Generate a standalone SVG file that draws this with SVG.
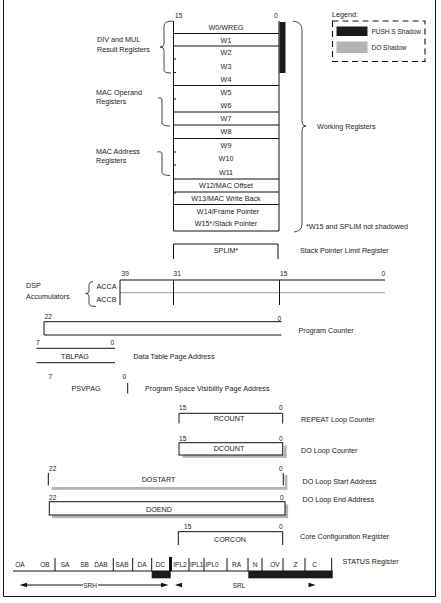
<svg xmlns="http://www.w3.org/2000/svg" width="441" height="603" viewBox="0 0 441 603">
<style>
text{font-family:"Liberation Sans",Arial,sans-serif;font-size:7.2px;fill:#222}
.c{text-anchor:middle}
.n{font-size:6.6px}
.s{font-size:6.5px;text-anchor:middle}
.lg{font-size:6.5px}
.b{fill:none;stroke:#111;stroke-width:1}
.br{fill:none;stroke:#333;stroke-width:0.9}
.sh{fill:#b3b3b3}
.bk{fill:#1a1a1a}
</style>
<rect x="0" y="0" width="441" height="603" fill="#fff"/>
<path d="M3.5,-2 V596.5 H435.5 V-2" class="b"/>

<g id="legend">
<text x="332" y="16.5">Legend:</text>
<rect x="332.5" y="21" width="92.5" height="40.5" fill="none" stroke="#111" stroke-width="1.1" stroke-dasharray="6,4"/>
<rect x="336.5" y="26.5" width="31" height="9.5" class="bk"/>
<text x="371.5" y="33.5" class="lg">PUSH.S Shadow</text>
<rect x="336.5" y="41.5" width="31" height="11.5" class="sh"/>
<text x="371.5" y="49.5" class="lg">DO Shadow</text>
</g>

<g id="working-registers">
<text x="175" y="17.5" class="n">15</text>
<text x="274" y="17.5" class="n">0</text>
<rect x="279.5" y="22" width="6" height="51" class="bk"/>
<path d="M173.5,21 V231 H279 V21" class="b"/>
<path d="M173.5,33.5H279M173.5,46H279M173.5,85.5H279M173.5,112H279M173.5,125H279M173.5,138.5H279M173.5,179H279M173.5,192H279M173.5,204.5H279" class="b"/>
<path d="M173.5,59H176M173.5,72.5H176M173.5,99H176M173.5,152H176M173.5,165H176M173.5,193H176" class="b"/>
<text x="226" y="30" class="c">W0/WREG</text>
<text x="226" y="42.6" class="c">W1</text>
<text x="226" y="55" class="c">W2</text>
<text x="226" y="68.6" class="c">W3</text>
<text x="226" y="81.6" class="c">W4</text>
<text x="226" y="95" class="c">W5</text>
<text x="226" y="108" class="c">W6</text>
<text x="226" y="121" class="c">W7</text>
<text x="226" y="134" class="c">W8</text>
<text x="226" y="147.6" class="c">W9</text>
<text x="226" y="160.6" class="c">W10</text>
<text x="226" y="174.6" class="c">W11</text>
<text x="226" y="187.6" class="c">W12/MAC Offset</text>
<text x="226" y="200.6" class="c">W13/MAC Write Back</text>
<text x="228" y="213.6" class="c">W14/Frame Pointer</text>
<text x="226" y="225.6" class="c">W15*/Stack Pointer</text>
</g>

<g id="group-labels">
<path class="br" d="M173,21 Q164,21 164,26 L164,44 Q164,47 160,47 Q164,47 164,50 L164,70 Q164,73 171,73"/>
<text x="97" y="41.5">DIV and MUL</text>
<text x="97" y="51.5">Result Registers</text>
<path class="br" d="M158,98 Q162,97 162,100 L162,123 Q162,126 170,126"/>
<text x="96" y="94.5">MAC Operand</text>
<text x="96" y="103.5">Registers</text>
<path class="br" d="M157,152 Q162,151 162,154 L162,172 Q162,175.5 170,175.5"/>
<text x="96" y="154">MAC Address</text>
<text x="96" y="163">Registers</text>
<path class="br" d="M293,21 Q302,22 302,30 L302,122 Q302,126 306,126 Q302,126 302,130 L302,224 Q302,231 294,232"/>
<text x="317" y="128.6">Working Registers</text>
<text x="306" y="229.3">*W15 and SPLIM not shadowed</text>
</g>

<g id="splim">
<path d="M173.5,259 V244 H278 V259" class="b"/>
<text x="226" y="253" class="c">SPLIM*</text>
<text x="300" y="252.6">Stack Pointer Limit Register</text>
</g>

<g id="accumulators">
<text x="26" y="287.5">DSP</text>
<text x="26" y="298.5">Accumulators</text>
<path class="br" d="M93,281.5 Q89,281.5 89,284.5 L89,291 Q89,293.5 85.5,293.5 Q89,293.5 89,296 L89,303.5 Q89,306.5 96,306.5"/>
<text x="96.5" y="288.6">ACCA</text>
<text x="96.5" y="301.9">ACCB</text>
<text x="121.5" y="275.5" class="n">39</text>
<text x="173.5" y="275.5" class="n">31</text>
<text x="280" y="275.5" class="n">15</text>
<text x="381.5" y="275.5" class="n">0</text>
<line x1="120" y1="292.7" x2="385" y2="292.7" stroke="#9a9a9a" stroke-width="1"/>
<path d="M120,305 V280 H385 M173.5,280 V305 M279.5,280 V305" class="b"/>
</g>

<g id="pc">
<text x="44.5" y="318.5" class="n">22</text>
<text x="277.5" y="320.5" class="n">0</text>
<path d="M281.5,321.7 H44 V335 H281.5" class="b"/>
<text x="298.5" y="332.5">Program Counter</text>
</g>

<g id="tblpag">
<text x="36" y="345" class="n">7</text>
<text x="110.5" y="345" class="n">0</text>
<path d="M36.5,348.3 H115 M36.5,362.7 H115" class="b"/>
<text x="75" y="358.5" class="c">TBLPAG</text>
<text x="133.5" y="358.5">Data Table Page Address</text>
</g>

<g id="psvpag">
<text x="48.5" y="379" class="n">7</text>
<text x="122.5" y="379" class="n">0</text>
<line x1="127.7" y1="383" x2="127.7" y2="393.5" class="b"/>
<text x="86" y="390.8" class="c">PSVPAG</text>
<text x="145" y="390.8">Program Space Visibility Page Address</text>
</g>

<g id="rcount">
<text x="179" y="409.7" class="n">15</text>
<text x="279" y="409.7" class="n">0</text>
<path d="M179,423.5 V413.3 H282.7 V423.5" class="b"/>
<text x="229" y="420.8" class="c">RCOUNT</text>
<text x="301" y="421.5">REPEAT Loop Counter</text>
</g>

<g id="dcount">
<text x="179" y="440.7" class="n">15</text>
<text x="279" y="440.7" class="n">0</text>
<rect x="182.5" y="455.2" width="104" height="2.6" class="sh"/>
<rect x="283.8" y="445.5" width="2.7" height="12.3" class="sh"/>
<rect x="179" y="442.7" width="103.7" height="12.3" class="b"/>
<text x="229" y="450.8" class="c">DCOUNT</text>
<text x="301" y="452.5">DO Loop Counter</text>
</g>

<g id="dostart">
<text x="49" y="470.7" class="n">22</text>
<text x="279" y="470.7" class="n">0</text>
<rect x="51.7" y="487" width="234.5" height="2.8" class="sh"/>
<rect x="284.6" y="475" width="2.8" height="14.8" class="sh"/>
<path d="M48.3,473 V485.5 M283.3,473 V485.5" class="b"/>
<text x="158.5" y="481.8" class="c">DOSTART</text>
<text x="302.5" y="483.5">DO Loop Start Address</text>
</g>

<g id="doend">
<text x="49" y="499.7" class="n">22</text>
<text x="280" y="499.7" class="n">0</text>
<rect x="52" y="515.3" width="236" height="2.8" class="sh"/>
<rect x="285.3" y="504.5" width="2.8" height="13.6" class="sh"/>
<rect x="49.3" y="501.7" width="235.7" height="13.3" class="b"/>
<text x="159" y="511.8" class="c">DOEND</text>
<text x="302.5" y="501.5">DO Loop End Address</text>
</g>

<g id="corcon">
<text x="184" y="529" class="n">15</text>
<text x="279" y="529" class="n">0</text>
<path d="M178.3,545 V531.7 H282.7 V545" class="b"/>
<text x="230" y="541.8" class="c">CORCON</text>
<text x="300" y="539.2">Core Configuration Register</text>
</g>

<g id="status">
<line x1="13" y1="571" x2="332.5" y2="571" class="b"/>
<rect x="151.7" y="571" width="19" height="7.3" class="bk"/>
<rect x="248.3" y="571" width="84.4" height="7.3" class="bk"/>
<path d="M55,558V571M113.3,558V571M132.7,558V571M151.7,558V571M189,558V571M204,558V571M227,558V571M248,558V571M262,558V571M283,558V571M305,558V571M331.7,558V571" class="b"/>
<line x1="170.5" y1="557" x2="170.5" y2="571" stroke="#111" stroke-width="3"/>
<text x="20" y="567.3" class="s">OA</text>
<text x="45" y="567.3" class="s">OB</text>
<text x="65" y="567.3" class="s">SA</text>
<text x="84.5" y="567.3" class="s">SB</text>
<text x="101" y="567.3" class="s">DAB</text>
<text x="122" y="567.3" class="s">SAB</text>
<text x="142" y="567.3" class="s">DA</text>
<text x="160.5" y="567.3" class="s">DC</text>
<text x="180" y="567.3" class="s">IPL2</text>
<text x="196.7" y="567.3" class="s">IPL1</text>
<text x="212" y="567.3" class="s">IPL0</text>
<text x="236.5" y="567.3" class="s">RA</text>
<text x="255" y="567.3" class="s">N</text>
<text x="275" y="567.3" class="s">OV</text>
<text x="295.5" y="567.3" class="s">Z</text>
<text x="314.5" y="567.3" class="s">C</text>
<text x="342.5" y="564.2">STATUS Register</text>
<line x1="24" y1="585" x2="164" y2="585" stroke="#111" stroke-width="1"/>
<path d="M19.5,585 L27,582.8 L27,587.2 Z M168.5,585 L161,582.8 L161,587.2 Z M175,585 L182,582.8 L182,587.2 Z M315.5,585 L308.5,582.8 L308.5,587.2 Z" fill="#111"/>
<rect x="83" y="581.5" width="15" height="7" fill="#fff"/>
<text x="90" y="587.5" class="s">SRH</text>
<text x="239" y="587.5" class="s">SRL</text>
</g>
</svg>
